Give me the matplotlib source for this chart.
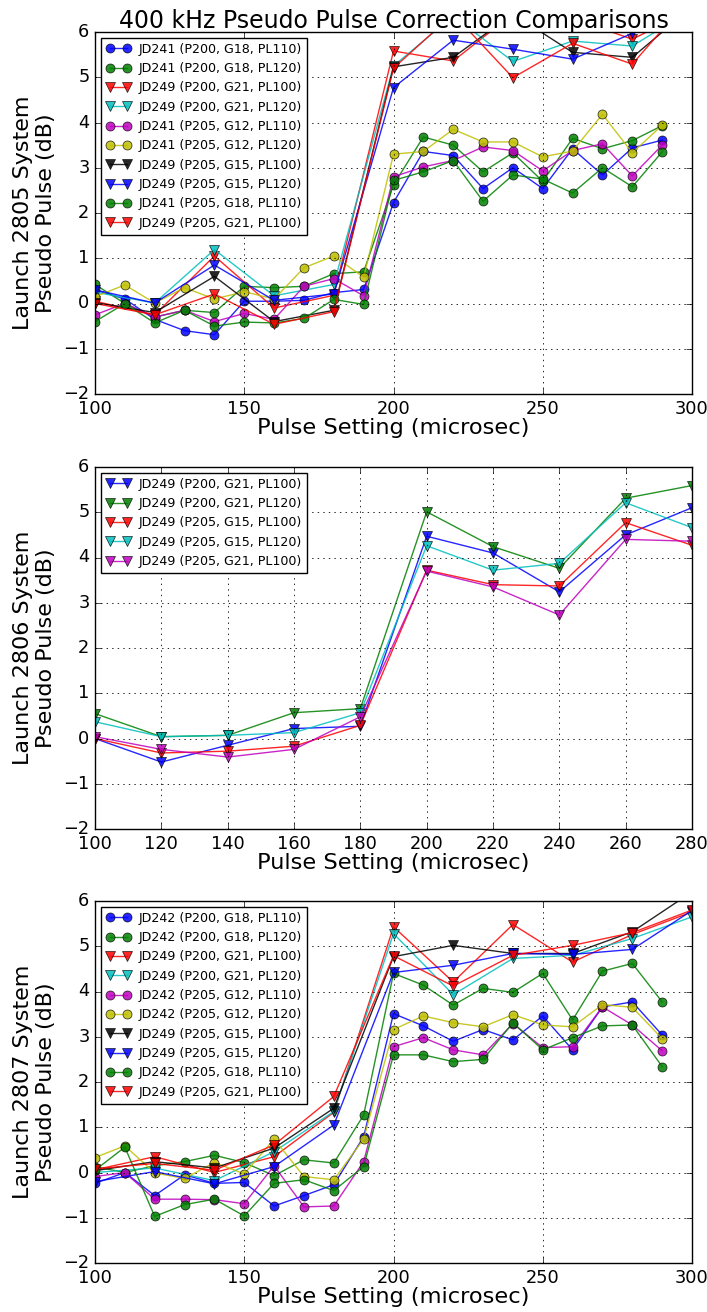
import matplotlib
matplotlib.use("Agg")
import matplotlib.pyplot as plt

plt.style.use("classic")
plt.rcParams["font.family"] = ["DejaVu Sans"]

# ---------------- data ----------------
x_fine = [100, 110, 120, 130, 140, 150, 160, 170, 180, 190,
          200, 210, 220, 230, 240, 250, 260, 270, 280, 290]
x_coarse = [100, 120, 140, 160, 180, 200, 220, 240, 260, 280, 300]
x_mid = [100, 120, 140, 160, 180, 200, 220, 240, 260, 280]

# Panel 1 (Launch 2805)
p1_labels = ["JD241 (P200, G18, PL110)", "JD241 (P200, G18, PL120)",
             "JD249 (P200, G21, PL100)", "JD249 (P200, G21, PL120)",
             "JD241 (P205, G12, PL110)", "JD241 (P205, G12, PL120)",
             "JD249 (P205, G15, PL100)", "JD249 (P205, G15, PL120)",
             "JD241 (P205, G18, PL110)", "JD249 (P205, G21, PL100)"]
p1_jd241_p200_g18_pl110 = [0.3, 0.1, -0.35, -0.6, -0.69, 0.05, 0.05, 0.07, 0.24, 0.31,
                           2.23, 3.36, 3.27, 2.54, 3.0, 2.54, 3.42, 2.84, 3.44, 3.61]
p1_jd241_p200_g18_pl120 = [0.42, 0.0, -0.3, -0.15, -0.2, 0.38, 0.35, 0.38, 0.66, 0.7,
                           2.62, 3.68, 3.5, 2.91, 3.33, 2.7, 3.65, 3.42, 3.6, 3.93]
p1_jd249_p200_g21_pl100 = [0.05, -0.25, 1.05, -0.1, 0.18, 5.58, 5.36, 6.4, 6.3, 5.84, 6.5]
p1_jd249_p200_g21_pl120 = [0.25, 0.01, 1.19, 0.17, 0.42, 5.25, 6.35, 5.35, 5.8, 5.69, 6.5]
p1_jd241_p205_g12_pl110 = [-0.25, 0.0, -0.3, -0.15, -0.4, -0.22, -0.35, 0.38, 0.55, 0.17,
                           2.8, 3.02, 3.16, 3.46, 3.38, 2.93, 3.38, 3.53, 2.82, 3.5]
p1_jd241_p205_g12_pl120 = [0.15, 0.41, 0.01, 0.35, 0.1, 0.26, 0.1, 0.79, 1.05, 0.58,
                           3.3, 3.36, 3.85, 3.57, 3.57, 3.24, 3.37, 4.18, 3.33, 3.94]
p1_jd249_p205_g15_pl100 = [0.02, -0.2, 0.6, -0.4, -0.15, 5.23, 5.44, 6.4, 5.55, 5.44, 6.55]
p1_jd249_p205_g15_pl120 = [0.3, 0.01, 0.85, 0.07, 0.21, 4.77, 5.82, 5.62, 5.4, 5.97, 6.6]
p1_jd241_p205_g18_pl110 = [-0.4, 0.0, -0.43, -0.15, -0.5, -0.41, -0.43, -0.33, 0.09, -0.02,
                           2.72, 2.91, 3.16, 2.26, 2.84, 2.75, 2.44, 3.0, 2.58, 3.35]
p1_jd249_p205_g21_pl100 = [0.0, -0.25, 0.21, -0.46, -0.18, 5.2, 6.4, 4.99, 5.75, 5.29, 6.8]

# Panel 2 (Launch 2806)
p2_labels = ["JD249 (P200, G21, PL100)", "JD249 (P200, G21, PL120)",
             "JD249 (P205, G15, PL100)", "JD249 (P205, G15, PL120)",
             "JD249 (P205, G21, PL100)"]
p2_p200_g21_pl100 = [0.0, -0.52, -0.15, 0.22, 0.27, 4.47, 4.1, 3.24, 4.5, 5.1]
p2_p200_g21_pl120 = [0.55, 0.04, 0.07, 0.57, 0.66, 5.01, 4.24, 3.76, 5.31, 5.59]
p2_p205_g15_pl100 = [0.0, -0.32, -0.28, -0.17, 0.29, 3.72, 3.4, 3.37, 4.77, 4.27]
p2_p205_g15_pl120 = [0.37, 0.04, 0.07, 0.13, 0.57, 4.26, 3.72, 3.87, 5.21, 4.66]
p2_p205_g21_pl100 = [0.04, -0.24, -0.41, -0.24, 0.48, 3.7, 3.35, 2.73, 4.4, 4.36]

# Panel 3 (Launch 2807)
p3_labels = ["JD242 (P200, G18, PL110)", "JD242 (P200, G18, PL120)",
             "JD249 (P200, G21, PL100)", "JD249 (P200, G21, PL120)",
             "JD242 (P205, G12, PL110)", "JD242 (P205, G12, PL120)",
             "JD249 (P205, G15, PL100)", "JD249 (P205, G15, PL120)",
             "JD242 (P205, G18, PL110)", "JD249 (P205, G21, PL100)"]
p3_jd242_p200_g18_pl110 = [-0.24, 0.0, -0.51, -0.05, -0.24, -0.22, -0.74, -0.51, -0.27, 0.79,
                           3.51, 3.24, 2.9, 3.16, 2.93, 3.46, 2.71, 3.66, 3.77, 3.04]
p3_jd242_p200_g18_pl120 = [0.13, 0.0, 0.15, 0.24, 0.38, 0.22, -0.07, 0.28, 0.21, 1.27,
                           4.4, 4.14, 3.7, 4.07, 3.98, 4.4, 3.37, 4.45, 4.62, 3.77]
p3_jd249_p200_g21_pl100 = [0.06, 0.35, 0.0, 0.35, 1.33, 5.43, 4.21, 5.48, 4.65, 5.26, 5.76]
p3_jd249_p200_g21_pl120 = [0.0, 0.1, -0.18, 0.46, 1.35, 5.28, 3.93, 4.73, 4.8, 5.17, 5.65]
p3_jd242_p205_g12_pl110 = [-0.09, 0.0, -0.59, -0.59, -0.6, -0.69, 0.15, -0.76, -0.74, 0.24,
                           2.78, 2.98, 2.71, 2.6, 3.29, 2.76, 2.78, 3.66, 3.26, 2.69]
p3_jd242_p205_g12_pl120 = [0.33, 0.59, -0.01, -0.13, 0.22, -0.03, 0.74, -0.09, -0.16, 0.74,
                           3.16, 3.46, 3.31, 3.22, 3.49, 3.26, 3.22, 3.71, 3.65, 2.96]
p3_jd249_p205_g15_pl100 = [0.04, 0.24, 0.1, 0.54, 1.42, 4.77, 5.02, 4.84, 4.84, 5.32, 6.2]
p3_jd249_p205_g15_pl120 = [-0.2, 0.02, -0.25, 0.13, 1.05, 4.42, 4.58, 4.84, 4.82, 4.93, 5.79]
p3_jd242_p205_g18_pl110 = [0.05, 0.56, -0.97, -0.71, -0.59, -0.96, -0.24, -0.16, -0.4, 0.13,
                           2.6, 2.6, 2.45, 2.5, 3.31, 2.71, 2.98, 3.24, 3.26, 2.34]
p3_jd249_p205_g21_pl100 = [0.08, 0.2, 0.05, 0.61, 1.68, 4.79, 4.12, 4.8, 5.02, 5.3, 5.8]

# ---------------- figure ----------------
W, H = 707, 1312
fig = plt.figure(figsize=(W / 100, H / 100), dpi=100, facecolor="white")


def axes_px(left, top, right, bottom):
    return fig.add_axes([left / W, 1 - bottom / H, (right - left) / W, (bottom - top) / H])


def series(ax, x, y, fmt, label):
    ax.plot(x, y, fmt, label=label, markersize=6.5, markeredgecolor="k",
            markeredgewidth=0.5, linewidth=1.0, alpha=0.85)


def style(ax, ylabel, xlim, xticks):
    ax.set_xlim(*xlim)
    ax.set_ylim(-2, 6)
    ax.set_xticks(xticks)
    ax.set_yticks(range(-2, 7))
    ax.grid(True, color="k", linestyle=":", linewidth=0.6)
    ax.set_xlabel("Pulse Setting (microsec)", fontsize=16.2, labelpad=0)
    ax.set_ylabel(ylabel, fontsize=16.0, labelpad=5)
    ax.tick_params(labelsize=12.8)
    leg = ax.legend(loc="upper left", fontsize=9.1, numpoints=2, fancybox=False,
                    labelspacing=0.5, handlelength=2.0, borderpad=0.4,
                    handletextpad=0.6, borderaxespad=0.45)
    leg.get_frame().set_edgecolor("k")


fmts10 = ["b-o", "g-o", "r-v", "c-v", "m-o", "y-o", "k-v", "b-v", "g-o", "r-v"]

# Panel 1
ax1 = axes_px(95, 32, 692, 394)
p1_data = [p1_jd241_p200_g18_pl110, p1_jd241_p200_g18_pl120, p1_jd249_p200_g21_pl100,
           p1_jd249_p200_g21_pl120, p1_jd241_p205_g12_pl110, p1_jd241_p205_g12_pl120,
           p1_jd249_p205_g15_pl100, p1_jd249_p205_g15_pl120, p1_jd241_p205_g18_pl110,
           p1_jd249_p205_g21_pl100]
for data, fmt, lab in zip(p1_data, fmts10, p1_labels):
    xs = x_fine if fmt.endswith("o") else x_coarse
    series(ax1, xs, data, fmt, lab)
style(ax1, "Launch 2805 System\nPseudo Pulse (dB)", (100, 300), [100, 150, 200, 250, 300])
ax1.set_title("400 kHz Pseudo Pulse Correction Comparisons", fontsize=17, pad=3)

# Panel 2
ax2 = axes_px(95, 467, 692, 829)
p2_data = [p2_p200_g21_pl100, p2_p200_g21_pl120, p2_p205_g15_pl100,
           p2_p205_g15_pl120, p2_p205_g21_pl100]
for data, fmt, lab in zip(p2_data, ["b-v", "g-v", "r-v", "c-v", "m-v"], p2_labels):
    series(ax2, x_mid, data, fmt, lab)
style(ax2, "Launch 2806 System\nPseudo Pulse (dB)", (100, 280), x_mid)

# Panel 3
ax3 = axes_px(95, 901, 692, 1263)
p3_data = [p3_jd242_p200_g18_pl110, p3_jd242_p200_g18_pl120, p3_jd249_p200_g21_pl100,
           p3_jd249_p200_g21_pl120, p3_jd242_p205_g12_pl110, p3_jd242_p205_g12_pl120,
           p3_jd249_p205_g15_pl100, p3_jd249_p205_g15_pl120, p3_jd242_p205_g18_pl110,
           p3_jd249_p205_g21_pl100]
for data, fmt, lab in zip(p3_data, fmts10, p3_labels):
    xs = x_fine if fmt.endswith("o") else x_coarse
    series(ax3, xs, data, fmt, lab)
style(ax3, "Launch 2807 System\nPseudo Pulse (dB)", (100, 300), [100, 150, 200, 250, 300])

fig.savefig("out.png", dpi=100, facecolor="white")
